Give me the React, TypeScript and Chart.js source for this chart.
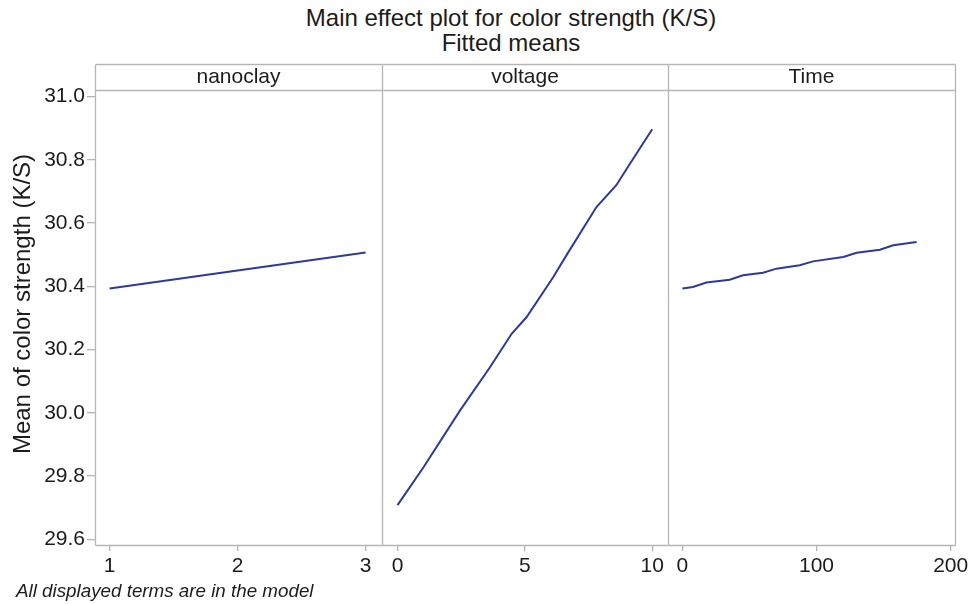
import React, { useEffect, useRef } from "react";
import { Chart, registerables } from "chart.js";

Chart.register(...registerables);

// ---- data ----
const panelNames = ["nanoclay", "voltage", "Time"];
const yTitle = "Mean of color strength (K/S)";

const nanoclayX = [1, 3];
const nanoclayY = [30.393, 30.507];

const voltageX = [0, 1.02, 2.45, 3.63, 4.48, 5.07, 6.11, 6.63, 7.81, 8.59, 9.05, 10];
const voltageY = [29.708, 29.828, 30.007, 30.144, 30.25, 30.303, 30.429, 30.498, 30.651, 30.72, 30.778, 30.897];

const timeX = [0, 7.9, 17.9, 35.3, 45.2, 60.1, 70.1, 87.5, 97.4, 119.9, 129.9, 147.2, 157.2, 174.6];
const timeY = [30.393, 30.398, 30.412, 30.421, 30.435, 30.443, 30.456, 30.467, 30.479, 30.493, 30.506, 30.516, 30.53, 30.54];

const yTicks = [29.6, 29.8, 30.0, 30.2, 30.4, 30.6, 30.8, 31.0];
const nanoclayTicks = [1, 2, 3];
const voltageTicks = [0, 5, 10];
const timeTicks = [0, 100, 200];

// ---- layout / style ----
const W = 969;
const H = 604;
const FONT = "'Liberation Sans', Arial, Helvetica, sans-serif";
const GRAY = "#b8b6b2";
const TEXT = "#1c1c1c";
const LINE = "#2f3a96";
const EDGES = [95, 382, 668, 955];
const PLOT_TOP = 90;
const STRIP_TOP = 64;
const X_AXIS_H = 59;
const Y_RANGE = [29.582, 31.021];
const X_RANGES = [
  [0.886, 3.128],
  [-0.61, 10.62],
  [-10.7, 203.2],
];

const panelXs = [nanoclayX, voltageX, timeX];
const panelYs = [nanoclayY, voltageY, timeY];
const panelTicks = [nanoclayTicks, voltageTicks, timeTicks];

const px = (v: number) => Math.round(v) + 0.5;

const framePlugin = {
  id: "frameStrip",
  afterDatasetsDraw(chart: any, _args: any, opts: any) {
    const { ctx, chartArea } = chart;
    const l = px(chartArea.left);
    const r = px(chartArea.right);
    const t = px(chartArea.top);
    const b = px(chartArea.bottom);
    const st = px(STRIP_TOP);
    ctx.save();
    ctx.strokeStyle = GRAY;
    ctx.lineWidth = 1.3;
    ctx.beginPath();
    // top of strip, strip bottom, plot bottom
    ctx.moveTo(l, st); ctx.lineTo(r, st);
    ctx.moveTo(l, t); ctx.lineTo(r, t);
    ctx.moveTo(l, b); ctx.lineTo(r, b);
    // left edge (strip + plot)
    ctx.moveTo(l, st); ctx.lineTo(l, b);
    if (opts.last) {
      ctx.moveTo(r, st); ctx.lineTo(r, b);
    }
    ctx.stroke();
    ctx.fillStyle = TEXT;
    ctx.font = `21px ${FONT}`;
    ctx.textAlign = "center";
    ctx.textBaseline = "alphabetic";
    ctx.fillText(opts.label, (chartArea.left + chartArea.right) / 2, 83);
    if (opts.yTitle) {
      ctx.save();
      ctx.translate(23, 304);
      ctx.rotate(-Math.PI / 2);
      ctx.font = `24px ${FONT}`;
      ctx.textBaseline = "middle";
      ctx.fillText(opts.yTitle, 0, 0);
      ctx.restore();
    }
    ctx.restore();
  },
};

function makePanel(canvas: HTMLCanvasElement, idx: number) {
  const first = idx === 0;
  const last = idx === panelNames.length - 1;
  const left = EDGES[idx];
  const right = EDGES[idx + 1];
  const xs = panelXs[idx];
  const ys = panelYs[idx];
  const ticks = panelTicks[idx];
  return new Chart(canvas, {
    type: "line",
    data: {
      datasets: [
        {
          data: xs.map((x, i) => ({ x, y: ys[i] })),
          borderColor: LINE,
          borderWidth: 2,
          pointRadius: 0,
          tension: 0,
          fill: false,
        },
      ],
    },
    options: {
      animation: false,
      responsive: false,
      events: [],
      layout: {
        padding: { left: first ? 0 : left, right: W - right, top: PLOT_TOP, bottom: 0 },
      },
      plugins: {
        legend: { display: false },
        tooltip: { enabled: false },
        title: { display: false },
        frameStrip: { label: panelNames[idx], yTitle: first ? yTitle : "", last },
      } as any,
      scales: {
        x: {
          type: "linear",
          min: X_RANGES[idx][0],
          max: X_RANGES[idx][1],
          afterBuildTicks: (s: any) => {
            s.ticks = ticks.map((v) => ({ value: v }));
          },
          afterFit: (s: any) => {
            s.height = X_AXIS_H;
            s.paddingLeft = 0;
            s.paddingRight = 0;
          },
          grid: {
            drawOnChartArea: false,
            drawTicks: true,
            tickLength: 6,
            color: GRAY,
            lineWidth: 1.3,
          },
          border: { display: false },
          ticks: {
            font: { family: FONT, size: 21 },
            color: TEXT,
            padding: 3,
            maxRotation: 0,
            autoSkip: false,
            callback: (v: any) => String(v),
          },
        },
        y: {
          type: "linear",
          display: first,
          min: Y_RANGE[0],
          max: Y_RANGE[1],
          afterBuildTicks: (s: any) => {
            s.ticks = yTicks.map((v) => ({ value: v }));
          },
          afterFit: (s: any) => {
            s.width = first ? EDGES[0] : 0;
            s.paddingTop = 0;
            s.paddingBottom = 0;
          },
          grid: {
            drawOnChartArea: false,
            drawTicks: true,
            tickLength: 8,
            color: GRAY,
            lineWidth: 1.3,
          },
          border: { display: false },
          ticks: {
            font: { family: FONT, size: 21 },
            color: TEXT,
            padding: 2,
            autoSkip: false,
            callback: (v: any) => Number(v).toFixed(1),
          },
          title: { display: false },
        },
      },
    } as any,
    plugins: [framePlugin],
  });
}

export default function App() {
  const r0 = useRef<HTMLCanvasElement>(null);
  const r1 = useRef<HTMLCanvasElement>(null);
  const r2 = useRef<HTMLCanvasElement>(null);

  useEffect(() => {
    document.body.style.margin = "0";
    const refs = [r0, r1, r2];
    const charts = refs.map((r, i) => makePanel(r.current as HTMLCanvasElement, i));
    return () => charts.forEach((c) => c.destroy());
  }, []);

  const canvasStyle: React.CSSProperties = { position: "absolute", left: 0, top: 0, display: "block" };

  return (
    <div style={{ position: "relative", width: W, height: H, background: "#ffffff", overflow: "hidden", fontFamily: FONT }}>
      <div
        style={{
          position: "absolute",
          left: 511 - 300,
          width: 600,
          top: 5,
          textAlign: "center",
          fontSize: 24,
          lineHeight: "25px",
          color: TEXT,
        }}
      >
        <div>Main effect plot for color strength (K/S)</div>
        <div>Fitted means</div>
      </div>
      <canvas ref={r0} width={W} height={H} style={canvasStyle} />
      <canvas ref={r1} width={W} height={H} style={canvasStyle} />
      <canvas ref={r2} width={W} height={H} style={canvasStyle} />
      <div
        style={{
          position: "absolute",
          left: 16,
          top: 581,
          fontSize: 18.8,
          lineHeight: "19px",
          fontStyle: "italic",
          color: TEXT,
          whiteSpace: "nowrap",
        }}
      >
        All displayed terms are in the model
      </div>
    </div>
  );
}
